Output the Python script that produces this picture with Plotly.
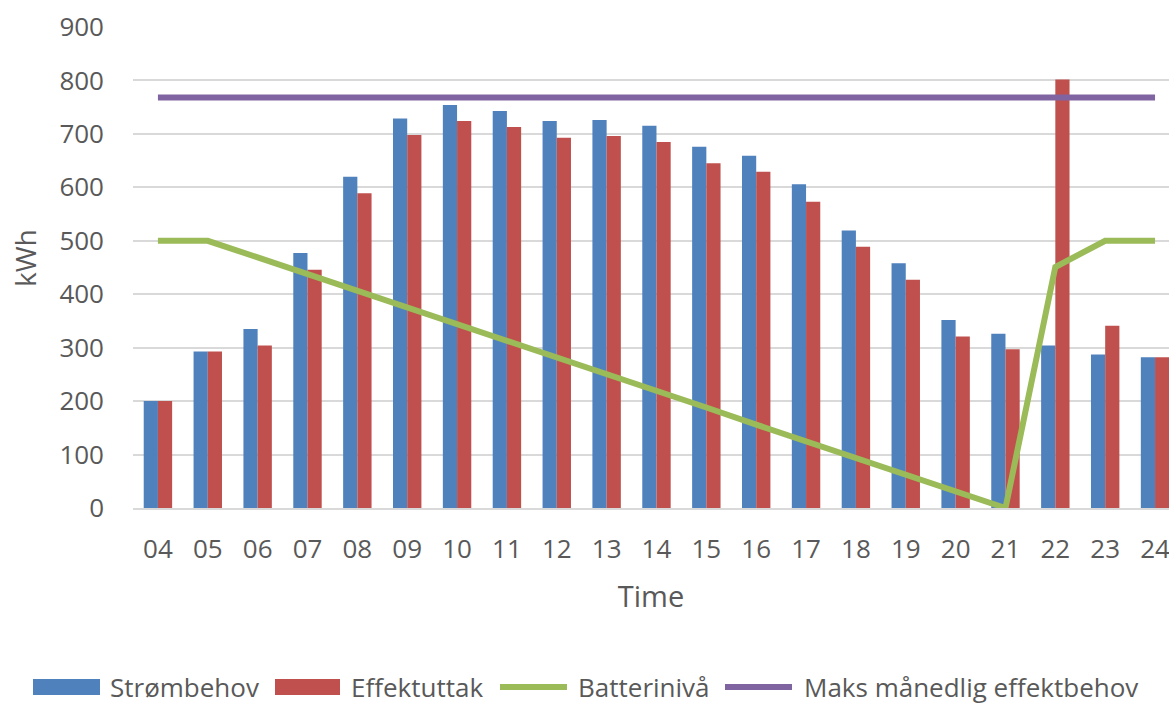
import plotly.graph_objects as go

# Hours of the day (category labels)
hours = ["04", "05", "06", "07", "08", "09", "10", "11", "12", "13", "14",
         "15", "16", "17", "18", "19", "20", "21", "22", "23", "24"]

# Hourly electricity demand (kWh)
strombehov = [200, 293, 335, 477, 620, 729, 754, 743, 724, 726, 715,
              676, 659, 606, 519, 458, 352, 326, 304, 287, 282]

# Power drawn from the grid (kWh)
effektuttak = [200, 293, 304, 446, 589, 698, 724, 713, 693, 696, 685,
               645, 629, 573, 489, 427, 321, 297, 802, 341, 282]

# Battery state of charge (kWh)
batteriniva = [500, 500, 469, 438, 406, 375, 344, 313, 281, 250, 219,
               188, 156, 125, 94, 63, 31, 0, 451, 500, 500]

# Monthly peak power requirement (kWh)
maks_maanedlig = [768] * len(hours)

series_names = ["Strømbehov", "Effektuttak", "Batterinivå", "Maks månedlig effektbehov"]

BLUE = "#4F81BD"
RED = "#C0504D"
GREEN = "#9BBB59"
PURPLE = "#8064A2"
TEXT = "#595959"
GRID = "#D9D9D9"
FONT = "Open Sans, Segoe UI, sans-serif"

W, H = 1169, 704
PL, PR, PT, PB = 133, 1169, 27, 508  # plot area in pixels


def px_x(p):
    return (p - PL) / (PR - PL)


def px_y(p):
    return (PB - p) / (PB - PT)


fig = go.Figure()
fig.add_trace(go.Bar(x=hours, y=strombehov, name=series_names[0],
                     marker=dict(color=BLUE, line=dict(width=0))))
fig.add_trace(go.Bar(x=hours, y=effektuttak, name=series_names[1],
                     marker=dict(color=RED, line=dict(width=0))))
fig.add_trace(go.Scatter(x=hours, y=batteriniva, name=series_names[2], mode="lines",
                         line=dict(color=GREEN, width=6)))
fig.add_trace(go.Scatter(x=hours, y=maks_maanedlig, name=series_names[3], mode="lines",
                         line=dict(color=PURPLE, width=6)))

# Legend row drawn below the axis title
shapes = []
annotations = []
legend_items = [
    ("rect", BLUE, 33, 100, 108, series_names[0]),
    ("rect", RED, 275, 340, 349, series_names[1]),
    ("line", GREEN, 497, 570, 576, series_names[2]),
    ("line", PURPLE, 722, 795, 802, series_names[3]),
]
ly = 687
for kind, col, x0, x1, tx, label in legend_items:
    if kind == "rect":
        shapes.append(dict(type="rect", xref="paper", yref="paper",
                           x0=px_x(x0), x1=px_x(x1), y0=px_y(ly + 8), y1=px_y(ly - 8),
                           fillcolor=col, line=dict(width=0), layer="above"))
    else:
        shapes.append(dict(type="line", xref="paper", yref="paper",
                           x0=px_x(x0 + 3), x1=px_x(x1 - 3), y0=px_y(ly), y1=px_y(ly),
                           line=dict(color=col, width=6), layer="above"))
    annotations.append(dict(xref="paper", yref="paper", x=px_x(tx), y=px_y(ly),
                            xanchor="left", yanchor="middle", showarrow=False,
                            text=label, font=dict(family=FONT, size=26, color=TEXT)))

# Vertical axis title
annotations.append(dict(xref="paper", yref="paper", x=px_x(25), y=px_y(258),
                        xanchor="center", yanchor="middle", showarrow=False,
                        textangle=-90, text="kWh",
                        font=dict(family=FONT, size=28, color=TEXT)))

fig.update_layout(
    width=W, height=H,
    margin=dict(l=PL, r=W - PR, t=PT, b=H - PB, pad=0),
    paper_bgcolor="white", plot_bgcolor="white",
    barmode="group", bargap=0.43, bargroupgap=0,
    showlegend=False,
    font=dict(family=FONT, color=TEXT),
    shapes=shapes, annotations=annotations,
    xaxis=dict(type="category", range=[-0.5, 20.28], showgrid=False,
               showline=True, linecolor=GRID, linewidth=1.5,
               ticks="", ticklabelstandoff=17,
               tickfont=dict(family=FONT, size=26, color=TEXT),
               title=dict(text="Time", standoff=22,
                          font=dict(family=FONT, size=29, color=TEXT))),
    yaxis=dict(range=[0, 900], dtick=100, showgrid=True, gridcolor=GRID, gridwidth=1.5,
               zeroline=False, showline=False, ticks="", ticklabelstandoff=28,
               tickfont=dict(family=FONT, size=26, color=TEXT)),
)

fig.write_html("out.html")
